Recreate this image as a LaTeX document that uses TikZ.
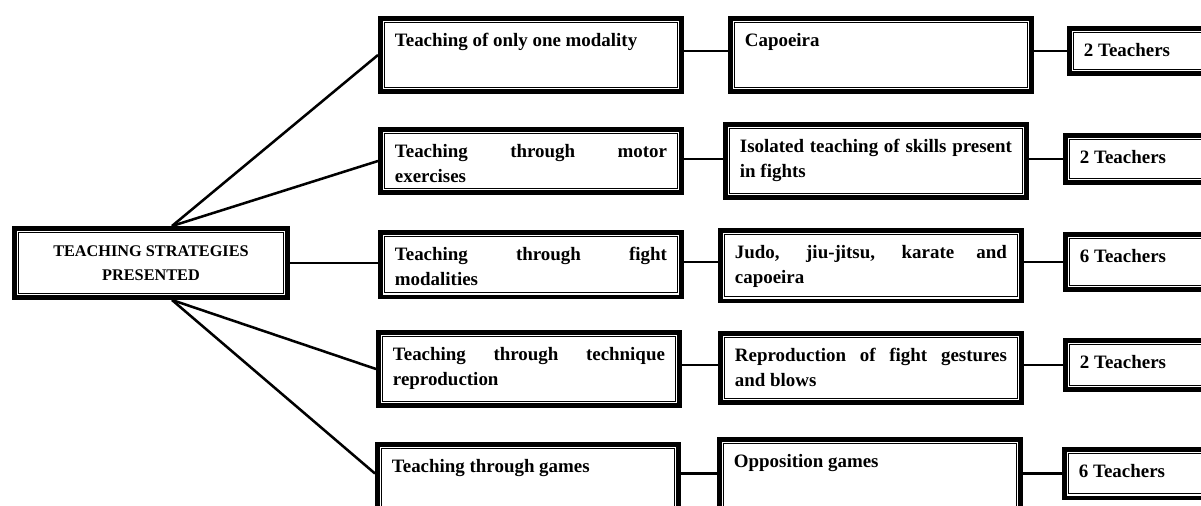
\documentclass[tikz,border=0pt]{standalone}
\usepackage{fontspec}
\setmainfont{Liberation Serif}
\usetikzlibrary{calc}
\newcommand{\boxtxt}[3]{\parbox[t][#1][t]{#2}{#3}}
\tikzset{
  caixa/.style={draw, line width=3.4pt, fill=white, inner sep=11pt, anchor=north west,
    font=\fontsize{14.2}{18.75}\selectfont\bfseries},
  liga/.style={line width=1.9pt},
}
\begin{document}
\begin{tikzpicture}[x=0.75pt, y=-0.75pt]
\useasboundingbox (0,0) rectangle (1201,506);

% Caixa central
\node[caixa, align=center, inner sep=0pt, minimum width=205.1pt, minimum height=52.1pt,
  font=\fontsize{12.2}{18}\selectfont\bfseries] (root) at (12,226) {TEACHING STRATEGIES\\PRESENTED};
\coordinate (rt) at ($(root.north west)+(160,0)$);
\coordinate (rb) at ($(root.south west)+(160,0)$);

% Estrategias
\node[caixa] (s1) at (378,16)  {\boxtxt{33.1pt}{204pt}{Teaching of only one modality}};
\node[caixa] (s2) at (378,127) {\boxtxt{25.6pt}{204pt}{Teaching through motor\linebreak exercises}};
\node[caixa] (s3) at (378,230) {\boxtxt{26.4pt}{204pt}{Teaching through fight\linebreak modalities}};
\node[caixa] (s4) at (376,330) {\boxtxt{33.1pt}{204pt}{Teaching through technique\linebreak reproduction}};
\node[caixa] (s5) at (375,442) {\boxtxt{34.6pt}{204pt}{Teaching through games}};

% Modalidades
\node[caixa] (m1) at (728,16)  {\boxtxt{33.1pt}{204pt}{Capoeira}};
\node[caixa] (m2) at (723,122) {\boxtxt{33.1pt}{204pt}{Isolated teaching of skills present\linebreak in fights}};
\node[caixa] (m3) at (718,228) {\boxtxt{30.9pt}{204pt}{Judo, jiu-jitsu, karate and\linebreak capoeira}};
\node[caixa] (m4) at (718,331) {\boxtxt{30.1pt}{204pt}{Reproduction of fight gestures\linebreak and blows}};
\node[caixa] (m5) at (717,437) {\boxtxt{34.6pt}{204pt}{Opposition games}};

% Professores
\node[caixa] (t1) at (1067,26)  {\boxtxt{12.1pt}{102pt}{2 Teachers}};
\node[caixa] (t2) at (1063,133) {\boxtxt{13.6pt}{102pt}{2 Teachers}};
\node[caixa] (t3) at (1063,232) {\boxtxt{19.6pt}{102pt}{6 Teachers}};
\node[caixa] (t4) at (1063,338) {\boxtxt{15.1pt}{102pt}{2 Teachers}};
\node[caixa] (t5) at (1062,447) {\boxtxt{14.4pt}{102pt}{6 Teachers}};

% Moldura fina interna
\foreach \n in {root,s1,s2,s3,s4,s5,m1,m2,m3,m4,m5,t1,t2,t3,t4,t5}
  \draw[line width=0.8pt] ([shift={(4.9pt,-4.9pt)}]\n.north west) rectangle ([shift={(-4.9pt,4.9pt)}]\n.south east);

% Ligacoes
\draw[liga] (rt) -- (s1.west);
\draw[liga] (rt) -- (s2.west);
\draw[liga] (root.east) -- (s3.west |- root.east);
\draw[liga] (rb) -- (s4.west);
\draw[liga] (rb) -- (s5.west |- t5.west);
\foreach \i in {1,...,5} {
  \draw[liga] (s\i.east |- t\i.west) -- (m\i.west |- t\i.west);
  \draw[liga] (m\i.east |- t\i.west) -- (t\i.west);
}
\end{tikzpicture}
\end{document}
